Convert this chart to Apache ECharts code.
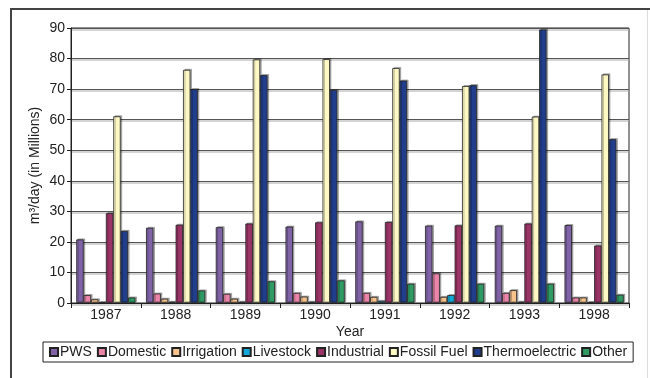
<!DOCTYPE html>
<html>
<head>
<meta charset="utf-8">
<script src="https://cdn.jsdelivr.net/npm/echarts@6/dist/echarts.min.js"></script>
<style>
html,body{margin:0;padding:0;background:#fff;}
#chart{width:650px;height:378px;}
</style>
</head>
<body>
<div id="chart"></div>
<script>
var years = ['1987','1988','1989','1990','1991','1992','1993','1998'];
var pws = [20.8, 24.6, 24.8, 25.0, 26.7, 25.3, 25.3, 25.5];
var domestic = [2.6, 3.1, 3.0, 3.3, 3.3, 9.7, 3.3, 1.8];
var irrigation = [1.2, 1.4, 1.4, 2.1, 2.0, 2.0, 4.2, 1.8];
var livestock = [0.3, 0.4, 0.4, 0.4, 0.7, 2.6, 0.4, 0.3];
var industrial = [29.4, 25.6, 26.0, 26.4, 26.5, 25.4, 26.0, 18.8];
var fossilFuel = [61.1, 76.3, 79.7, 79.8, 76.9, 71.0, 61.0, 74.8];
var thermo = [23.6, 70.0, 74.6, 69.7, 72.8, 71.3, 89.5, 53.6];
var other = [1.8, 4.1, 7.1, 7.4, 6.3, 6.3, 6.3, 2.7];
var yTicks = [0, 10, 20, 30, 40, 50, 60, 70, 80, 90];

var names = ['PWS','Domestic','Irrigation','Livestock','Industrial','Fossil Fuel','Thermoelectric','Other'];
var values = [pws, domestic, irrigation, livestock, industrial, fossilFuel, thermo, other];
var colors = ['#8063a6','#ea84a8','#f7c38c','#12a9d8','#9a3366','#fdf8c4','#213e8c','#2f9a63'];

var myChart = echarts.init(document.getElementById('chart'));
var font = 'Liberation Sans';

var series = [];
for (var i = 0; i < names.length; i++) {
	series.push({
		name: names[i],
		type: 'bar',
		data: values[i],
		barWidth: 7.4,
		barGap: '0%',
		itemStyle: {
			color: colors[i],
			borderColor: '#222',
			borderWidth: 0.8,
			shadowColor: 'rgba(0,0,0,0.3)',
			shadowOffsetX: 1.5,
			shadowOffsetY: -1,
			shadowBlur: 0
		}
	});
}

var option = {
	animation: false,
	textStyle: {fontFamily: font},
	graphic: [
		{type: 'line', shape: {x1: 10, y1: 9, x2: 652, y2: 9}, style: {stroke: '#444', lineWidth: 2}},
		{type: 'line', shape: {x1: 11, y1: 8, x2: 11, y2: 380}, style: {stroke: '#444', lineWidth: 2}},
		{type: 'line', shape: {x1: 647.5, y1: 10, x2: 647.5, y2: 380}, style: {stroke: '#ddd', lineWidth: 1}}
	],
	grid: {
		left: 71, top: 28, width: 558, height: 275,
		show: true, borderColor: '#222', borderWidth: 1
	},
	legend: {
		data: names,
		left: 43, top: 342,
		padding: [3, 6, 3, 6],
		itemGap: 5,
		itemWidth: 8, itemHeight: 8,
		icon: 'rect',
		borderColor: '#222', borderWidth: 1,
		textStyle: {fontFamily: font, fontSize: 14, color: '#222', padding: [0, 0, 0, -3]}
	},
	xAxis: {
		type: 'category',
		data: years,
		name: 'Year',
		nameLocation: 'middle',
		nameGap: 22,
		nameMoveOverlap: false,
		nameTextStyle: {fontFamily: font, fontSize: 14, color: '#222'},
		axisLine: {show: true, lineStyle: {color: '#222'}},
		axisTick: {show: true, length: 5, lineStyle: {color: '#222'}},
		axisLabel: {fontFamily: font, fontSize: 14, color: '#222', margin: 5}
	},
	yAxis: {
		type: 'value',
		min: yTicks[0], max: yTicks[yTicks.length - 1], interval: 10,
		name: 'm\u00b3/day (in Millions)',
		nameLocation: 'middle',
		nameGap: 29,
		nameMoveOverlap: false,
		nameTextStyle: {fontFamily: font, fontSize: 14, color: '#222'},
		axisLine: {show: true, lineStyle: {color: '#222'}},
		axisTick: {show: true, length: 4, lineStyle: {color: '#222'}},
		axisLabel: {fontFamily: font, fontSize: 14, color: '#222', margin: 6},
		splitLine: {show: true, lineStyle: {color: '#555', width: 1, shadowColor: '#aaa', shadowOffsetY: 1.5, shadowBlur: 0}}
	},
	series: series
};
myChart.setOption(option);
</script>
</body>
</html>
